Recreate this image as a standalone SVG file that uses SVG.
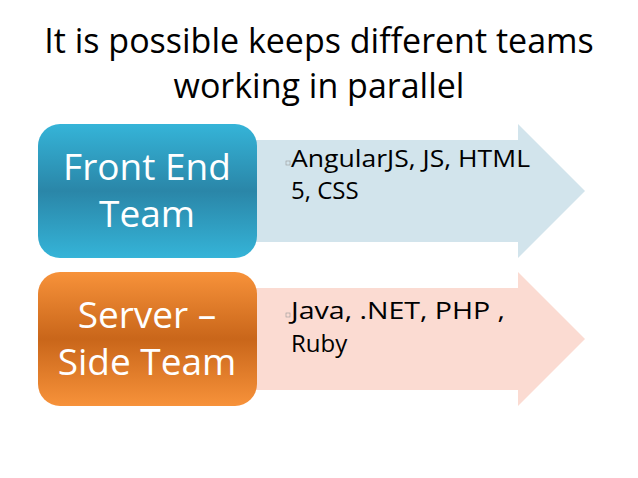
<svg xmlns="http://www.w3.org/2000/svg" width="638" height="478" viewBox="0 0 638 478">
<style>
.t{font-family:"Open Sans","Liberation Sans",sans-serif;}
.title{font-size:34px;fill:#000;text-anchor:middle}
.node{font-size:37px;fill:#fff;text-anchor:middle}
.item{font-size:24px;fill:#000}
</style>
<defs>
<linearGradient id="gb" x1="0" y1="0" x2="0" y2="1">
<stop offset="0" stop-color="#35b4d8"/><stop offset="0.5" stop-color="#2a86a8"/><stop offset="1" stop-color="#35b4d8"/>
</linearGradient>
<linearGradient id="go" x1="0" y1="0" x2="0" y2="1">
<stop offset="0" stop-color="#f7923a"/><stop offset="0.5" stop-color="#c9661a"/><stop offset="1" stop-color="#f7923a"/>
</linearGradient>
</defs>
<rect width="638" height="478" fill="#fff"/>
<text class="t title" x="319" y="53">It is possible keeps different teams</text>
<text class="t title" x="319" y="98">working in parallel</text>
<g id="arrow-front">
<polygon points="256,140 518,140 518,124 585,191 518,258 518,242 256,242" fill="#d2e4ec"/>
<rect x="286" y="161" width="4" height="4" fill="none" stroke="#999" stroke-width="0.6"/>
<text class="t item" x="291" y="167" textLength="239" lengthAdjust="spacingAndGlyphs">AngularJS, JS, HTML</text>
<text class="t item" x="291" y="199">5, CSS</text>
</g>
<g id="arrow-server">
<polygon points="256,288 518,288 518,272 585,339 518,406 518,390 256,390" fill="#fbdbd2"/>
<rect x="286" y="313" width="4" height="4" fill="none" stroke="#999" stroke-width="0.6"/>
<text class="t item" x="291" y="319" textLength="214" lengthAdjust="spacingAndGlyphs">Java, .NET, PHP ,</text>
<text class="t item" x="291" y="352">Ruby</text>
</g>
<g id="front-end">
<rect x="38" y="124" width="219" height="134" rx="22" fill="url(#gb)"/>
<text class="t node" x="147" y="180">Front End</text>
<text class="t node" x="147" y="227">Team</text>
</g>
<g id="server-side">
<rect x="38" y="272" width="219" height="134" rx="22" fill="url(#go)"/>
<text class="t node" x="147" y="328">Server –</text>
<text class="t node" x="147" y="375">Side Team</text>
</g>
<g id="connectors"></g>
</svg>
